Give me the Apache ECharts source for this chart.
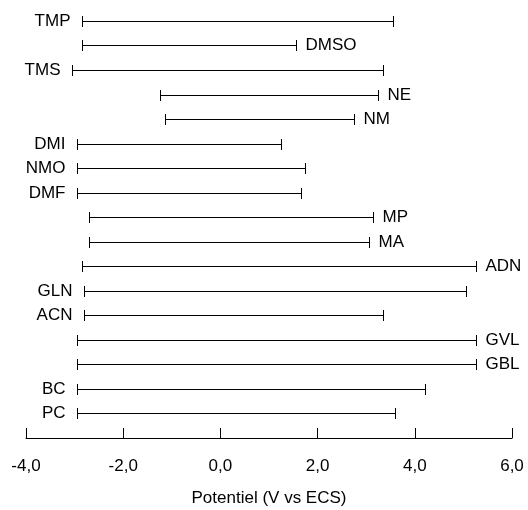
<!DOCTYPE html>
<html><head><meta charset="utf-8">
<script src="https://cdn.jsdelivr.net/npm/echarts@6/dist/echarts.min.js"></script>
<style>html,body{margin:0;padding:0;background:#fff}#c{width:528px;height:510px}</style>
</head><body><div id="c"></div>
<script>
// Top to bottom
const solvents = ['TMP','DMSO','TMS','NE','NM','DMI','NMO','DMF','MP','MA','ADN','GLN','ACN','GVL','GBL','BC','PC'];
const lowLimit = [-2.85,-2.85,-3.05,-1.25,-1.15,-2.95,-2.95,-2.95,-2.7,-2.7,-2.85,-2.8,-2.8,-2.95,-2.95,-2.95,-2.95];
const highLimit = [3.55,1.55,3.35,3.25,2.75,1.25,1.75,1.65,3.15,3.05,5.25,5.05,3.35,5.25,5.25,4.2,3.6];
const labelSide = ['left','right','left','right','right','left','left','left','right','right','right','left','left','right','right','left','left'];
const xTicks = [-4,-2,0,2,4,6];

const n = solvents.length;
const data = solvents.map((s,i)=>[lowLimit[i], highLimit[i], n - i, i]);
const FONT = 'Liberation Sans, Arial, sans-serif';
const FS = 17;

const chart = echarts.init(document.getElementById('c'), null, {renderer:'canvas'});
chart.setOption({
  animation:false,
  grid:{left:26, right:16, top:8.7, bottom:72, containLabel:false, outerBoundsMode:'none'},
  xAxis:{
    type:'value', min:xTicks[0], max:xTicks[xTicks.length-1], interval:2,
    axisLine:{show:true, onZero:false, lineStyle:{color:'#000', width:1}},
    axisTick:{show:true, inside:true, length:10, lineStyle:{color:'#000'}},
    splitLine:{show:false},
    axisLabel:{color:'#000', fontFamily:FONT, fontSize:FS, margin:20,
      formatter:v=>v.toFixed(1).replace('.',',')},
    name:'Potentiel (V vs ECS)', nameLocation:'middle', nameGap:52,
    nameTextStyle:{color:'#000', fontFamily:FONT, fontSize:FS}
  },
  yAxis:{type:'value', min:0, max:17.5, show:false},
  series:[{
    type:'custom',
    data:data,
    renderItem:function(params, api){
      const lo = api.coord([api.value(0), api.value(2)]);
      const hi = api.coord([api.value(1), api.value(2)]);
      const idx = api.value(3);
      const y = Math.round(lo[1]) + 0.5;
      const x0 = Math.round(lo[0]) + 0.5, x1 = Math.round(hi[0]) + 0.5;
      const cap = 5.5;
      const style = {stroke:'#000', lineWidth:1};
      const side = labelSide[idx];
      return {type:'group', children:[
        {type:'line', shape:{x1:x0,y1:y,x2:x1,y2:y}, style:style},
        {type:'line', shape:{x1:x0,y1:y-cap,x2:x0,y2:y+cap}, style:style},
        {type:'line', shape:{x1:x1,y1:y-cap,x2:x1,y2:y+cap}, style:style},
        {type:'text', x: side==='left' ? x0-12 : x1+9, y:y,
          style:{text:solvents[idx], fill:'#000', font:FS+'px '+FONT,
            textAlign: side==='left' ? 'right' : 'left', textVerticalAlign:'middle'}}
      ]};
    }
  }]
});
</script></body></html>
